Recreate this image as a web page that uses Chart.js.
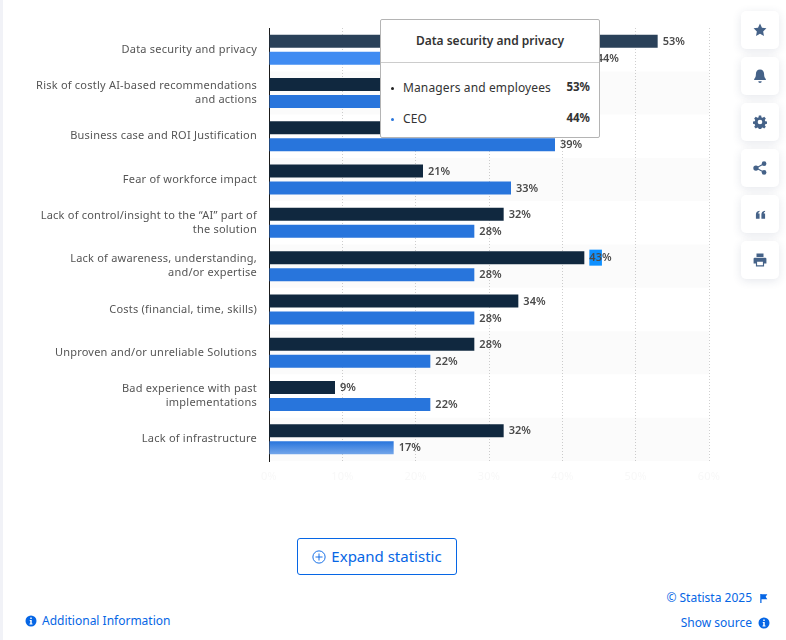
<!DOCTYPE html>
<html>
<head>
<meta charset="utf-8">
<script src="https://cdn.jsdelivr.net/npm/chart.js@4"></script>
<style>
    html, body { margin: 0; padding: 0; background: #fff; width: 786px; height: 640px; overflow: hidden; font-family: "Noto Sans", sans-serif; }
    #strip { position: absolute; left: 0; top: 0; width: 3px; height: 640px; background: #f1f2f7; }
    #wrap { position: absolute; left: 0; top: 0; width: 786px; height: 500px; }
    #tip { position: absolute; left: 380px; top: 19px; width: 218px; height: 117px; background: #fff; border: 1px solid #b4b4b4; border-radius: 2px; color: #333; font-size: 12px; letter-spacing: 0.12px; }
    #tip .title { position: absolute; left: 0; right: 0; top: 12px; text-align: center; font-weight: 600; letter-spacing: 0; }
    #tip hr { position: absolute; left: 0; right: 0; top: 42px; margin: 0; border: 0; border-top: 1px solid #ccc; }
    #tip .row { position: absolute; left: 10px; right: 9px; display: flex; justify-content: space-between; }
    #tip .row b { font-weight: 700; font-size: 11.5px; letter-spacing: 0; }
    #tip .row i { display: inline-block; width: 3px; height: 3px; border-radius: 50%; margin-right: 9px; vertical-align: middle; }
    .side { position: absolute; left: 741px; width: 38px; height: 38px; background: #fff; border-radius: 5px; box-shadow: 0 2px 10px rgba(40,60,100,0.12); display: flex; align-items: center; justify-content: center; }
    .side svg { width: 14px; height: 14px; fill: #456288; }
    #expand { position: absolute; left: 297px; top: 538px; width: 158px; height: 35px; border: 1px solid #0666e5; border-radius: 3px; color: #0666e5; font-size: 15px; line-height: 35px; text-align: center; }
    #expand svg { width: 14px; height: 14px; vertical-align: -2px; margin-right: 5px; }
    .link { position: absolute; color: #0666e5; font-size: 12px; white-space: nowrap; }
    .link svg { width: 12px; height: 12px; vertical-align: -2px; fill: #0666e5; }
</style>
</head>
<body>
<div id="strip"></div>
<div id="wrap"><canvas id="chart"></canvas></div>

<div id="tip">
    <div class="title" id="tipTitle"></div>
    <hr>
    <div class="row" style="top:59px"><span><i style="background:#222"></i><span id="tipName0"></span></span><b id="tipVal0"></b></div>
    <div class="row" style="top:90px"><span><i style="background:#2875dc"></i><span id="tipName1"></span></span><b id="tipVal1"></b></div>
</div>

<div class="side" style="top:11px"><svg viewBox="0 0 24 24"><path d="M12 1l3.4 7.2 7.6 1-5.600 5.400 1.400 7.800L12 18.600 5.200 22.400l1.400-7.800L1 9.200l7.600-1z"/></svg></div>
<div class="side" style="top:57px"><svg viewBox="0 0 24 24"><path d="M12 1c-4.500 0-7 3.500-7 7.500 0 5-1.500 7-3 8.500v2h20v-2c-1.500-1.500-3-3.500-3-8.500C19 4.500 16.500 1 12 1zM9 21a3 3 0 0 0 6 0z"/></svg></div>
<div class="side" style="top:103px"><svg viewBox="0 0 24 24"><path fill-rule="evenodd" d="M10 1h4l.6 3.100 2 .8 2.600-1.800 2.800 2.800-1.800 2.600.8 2 3 .6v4l-3 .6-.8 2 1.800 2.600-2.800 2.800-2.600-1.800-2 .8-.6 3h-4l-.6-3-2-.8-2.600 1.800-2.800-2.800 1.800-2.600-.8-2-3.100-.6v-4l3.100-.6.8-2L2 5.900l2.800-2.800 2.600 1.800 2-.8zM12 8a4 4 0 1 0 0 8 4 4 0 0 0 0-8z"/></svg></div>
<div class="side" style="top:149px"><svg viewBox="0 0 24 24"><circle cx="5" cy="12" r="4.500"/><circle cx="19" cy="4.500" r="4"/><circle cx="19" cy="19.500" r="4"/><path d="M5 11l14-7.500.9 1.800L6 12.800zM6 11.200l14 7.500-.9 1.800L5 13z"/></svg></div>
<div class="side" style="top:195px"><svg viewBox="0 0 24 24" style="width:11px;height:11px"><path d="M2 21v-9c0-4 2-7 8-8v2c-2 .5-3 2-3 4h3v11zM14 21v-9c0-4 2-7 8-8v2c-2 .5-3 2-3 4h3v11z"/></svg></div>
<div class="side" style="top:241px"><svg viewBox="0 0 24 24"><path fill-rule="evenodd" d="M6 1h12v6H6zM3 8h18a2 2 0 0 1 2 2v8h-4v5H5v-5H1v-8a2 2 0 0 1 2-2zM7 15v6h10v-6z"/></svg></div>

<div id="expand"><svg viewBox="0 0 24 24" fill="none" stroke="#0666e5" stroke-width="1.600"><circle cx="12" cy="12" r="10.500"/><path d="M12 6v12M6 12h12"/></svg>Expand statistic</div>
<div class="link" style="left:25px;top:612px"><svg viewBox="0 0 24 24"><path fill-rule="evenodd" d="M12 1a11 11 0 1 0 0 22 11 11 0 0 0 0-22zM10.500 5h3v3h-3zM9.500 10h4v7h1.500v2H9v-2h1.500v-5h-1z"/></svg><span style="margin-left:5px">Additional Information</span></div>
<div class="link" style="right:34px;top:589px">© Statista 2025</div>
<div class="link" style="left:759px;top:589px"><svg viewBox="0 0 24 24" style="width:10px;height:11px"><path d="M3 1h3v1h14l-4 6 4 6H6v9H3z"/></svg></div>
<div class="link" style="right:34px;top:614px">Show source</div>
<div class="link" style="left:758px;top:614px"><svg viewBox="0 0 24 24"><path fill-rule="evenodd" d="M12 1a11 11 0 1 0 0 22 11 11 0 0 0 0-22zM10.500 5h3v3h-3zM9.500 10h4v7h1.500v2H9v-2h1.500v-5h-1z"/></svg></div>

<script>
const categories = [
    "Data security and privacy",
    ["Risk of costly AI-based recommendations", "and actions"],
    "Business case and ROI Justification",
    "Fear of workforce impact",
    ["Lack of control/insight to the “AI” part of", "the solution"],
    ["Lack of awareness, understanding,", "and/or expertise"],
    "Costs (financial, time, skills)",
    "Unproven and/or unreliable Solutions",
    ["Bad experience with past", "implementations"],
    "Lack of infrastructure",
];
const seriesNames = ["Managers and employees", "CEO"];
// rows 2 and 3 sit behind the tooltip in the picture, so those are estimates
const managers = [53, 35, 38, 21, 32, 43, 34, 28, 9, 32];
const ceo = [44, 36, 39, 33, 28, 28, 28, 22, 22, 17];
const xTicks = [0, 10, 20, 30, 40, 50, 60];

const darkColors = managers.map((v, i) => (i === 0 ? "#2a4159" : "#10283f"));
const selectedLabel = { dataset: 0, index: 5 };

function ceoColor(ctx) {
    if (ctx.dataIndex === 0) return "#408cf2";
    if (ctx.dataIndex !== 9) return "#2875dc";
    // last bar fades out downwards
    const chart = ctx.chart;
    if (!chart.chartArea) return "#2875dc";
    const y = chart.scales.y.getPixelForValue(9);
    const g = chart.ctx.createLinearGradient(0, y + 2, 0, y + 15);
    g.addColorStop(0, "#2875dc");
    g.addColorStop(1, "#74a6ea");
    return g;
}

const stripes = {
    id: "stripes",
    beforeDraw(chart) {
        chart.ctx.letterSpacing = "0.22px";
    },
    beforeDatasetsDraw(chart) {
        const { ctx, chartArea, scales } = chart;
        const step = scales.y.getPixelForValue(1) - scales.y.getPixelForValue(0);
        ctx.save();
        ctx.fillStyle = "rgba(0,0,0,0.016)";
        categories.forEach((c, i) => {
            if (i % 2 === 1) {
                ctx.fillRect(chartArea.left, scales.y.getPixelForValue(i) - step / 2, chartArea.width, step);
            }
        });
        ctx.restore();
    },
};

const valueLabels = {
    id: "valueLabels",
    afterDatasetsDraw(chart) {
        const { ctx } = chart;
        ctx.save();
        ctx.font = "600 11px 'Noto Sans'";
        ctx.letterSpacing = "0px";
        ctx.textBaseline = "middle";
        chart.data.datasets.forEach((ds, d) => {
            chart.getDatasetMeta(d).data.forEach((bar, i) => {
                const text = ds.data[i] + "%";
                const x = bar.x + 5;
                if (d === selectedLabel.dataset && i === selectedLabel.index) {
                    ctx.fillStyle = "#0f90ff";
                    ctx.fillRect(x, bar.y - 8, ctx.measureText(String(ds.data[i])).width, 16);
                }
                ctx.fillStyle = "#4a4a4a";
                ctx.fillText(text, x, bar.y + 0.5);
            });
        });
        ctx.restore();
    },
};

new Chart(document.getElementById("chart"), {
    type: "bar",
    data: {
        labels: categories,
        datasets: [
            { label: seriesNames[0], data: managers, backgroundColor: darkColors },
            { label: seriesNames[1], data: ceo, backgroundColor: ceoColor },
        ],
    },
    plugins: [stripes, valueLabels],
    options: {
        indexAxis: "y",
        responsive: true,
        maintainAspectRatio: false,
        animation: false,
        categoryPercentage: 0.785,
        barPercentage: 0.765,
        layout: { padding: { top: 28, right: 77, left: 0, bottom: 0 } },
        plugins: { legend: { display: false }, tooltip: { enabled: false } },
        scales: {
            x: {
                min: 0,
                max: 60,
                afterBuildTicks(axis) {
                    axis.ticks = xTicks.map((value) => ({ value }));
                },
                afterFit(axis) {
                    axis.height = 39;
                },
                border: { display: false, dash: [1, 2] },
                grid: { color: "#cfcfcf", lineWidth: 1, tickLength: 0, drawTicks: false },
                ticks: {
                    color: "#f8f8f8",
                    padding: 9,
                    maxRotation: 0,
                    font: { family: "Noto Sans", size: 11 },
                    callback: (v) => v + "%",
                },
            },
            y: {
                afterFit(axis) {
                    axis.width = 269;
                },
                border: { display: true, color: "#1b1b1b", width: 1 },
                grid: { display: false, drawTicks: false },
                ticks: {
                    color: "#555",
                    padding: 12,
                    autoSkip: false,
                    font: { family: "Noto Sans", size: 11, lineHeight: 1.27 },
                },
            },
        },
    },
});

document.getElementById("tipTitle").textContent = categories[0];
document.getElementById("tipName0").textContent = seriesNames[0];
document.getElementById("tipName1").textContent = seriesNames[1];
document.getElementById("tipVal0").textContent = managers[0] + "%";
document.getElementById("tipVal1").textContent = ceo[0] + "%";
</script>
</body>
</html>
